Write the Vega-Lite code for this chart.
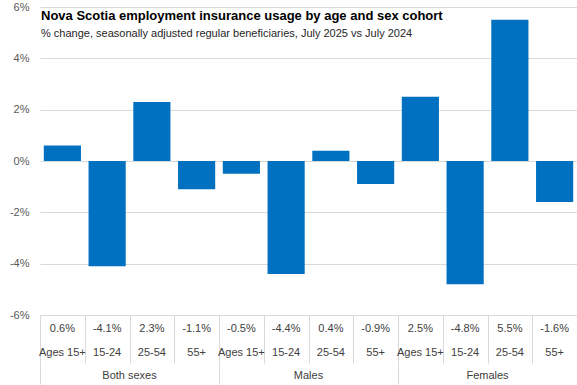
{
  "$schema": "https://vega.github.io/schema/vega-lite/v6.json",
  "padding": {"left": 9, "top": 1, "right": 1, "bottom": 1},
  "spacing": 0,
  "bounds": "flush",
  "background": "white",
  "config": {
    "view": {"stroke": null},
    "font": "Liberation Sans",
    "locale": {"number": {"decimal": ".", "thousands": ",", "grouping": [3], "currency": ["$", ""], "minus": "-"}}
  },
  "data": {
    "values": [
      {"cohort": "Both sexes 15+", "sex": "Both sexes", "age": "Ages 15+", "change": 0.006},
      {"cohort": "Both sexes 15-24", "sex": "Both sexes", "age": "15-24", "change": -0.041},
      {"cohort": "Both sexes 25-54", "sex": "Both sexes", "age": "25-54", "change": 0.023},
      {"cohort": "Both sexes 55+", "sex": "Both sexes", "age": "55+", "change": -0.011},
      {"cohort": "Males 15+", "sex": "Males", "age": "Ages 15+", "change": -0.005},
      {"cohort": "Males 15-24", "sex": "Males", "age": "15-24", "change": -0.044},
      {"cohort": "Males 25-54", "sex": "Males", "age": "25-54", "change": 0.004},
      {"cohort": "Males 55+", "sex": "Males", "age": "55+", "change": -0.009},
      {"cohort": "Females 15+", "sex": "Females", "age": "Ages 15+", "change": 0.025},
      {"cohort": "Females 15-24", "sex": "Females", "age": "15-24", "change": -0.048},
      {"cohort": "Females 25-54", "sex": "Females", "age": "25-54", "change": 0.055},
      {"cohort": "Females 55+", "sex": "Females", "age": "55+", "change": -0.016}
    ]
  },
  "vconcat": [
    {
      "width": 537,
      "height": 308,
      "title": {
        "text": "Nova Scotia employment insurance usage by age and sex cohort",
        "subtitle": "% change, seasonally adjusted regular beneficiaries, July 2025 vs July 2024",
        "anchor": "start",
        "frame": "group",
        "offset": -38,
        "dx": 1,
        "fontSize": 13,
        "fontWeight": "bold",
        "color": "#000000",
        "subtitleFontSize": 11,
        "subtitleColor": "#262626",
        "subtitlePadding": 5
      },
      "mark": {"type": "bar", "color": "#0070C0"},
      "encoding": {
        "x": {"field": "cohort", "type": "nominal", "sort": null, "axis": null,
              "scale": {"paddingInner": 0.17, "paddingOuter": 0.085}},
        "y": {"field": "change", "type": "quantitative",
              "scale": {"domain": [-0.06, 0.06], "nice": false, "zero": false},
              "axis": {"title": null, "format": ".0%", "values": [-0.06, -0.04, -0.02, 0, 0.02, 0.04, 0.06],
                       "domain": false, "ticks": false, "tickSize": 0, "labelPadding": 11,
                       "labelFontSize": 11, "labelColor": "#595959", "gridColor": "#d9d9d9",
                       "minExtent": 30, "maxExtent": 30}}
      }
    },
    {
      "width": 537,
      "height": 48,
      "encoding": {
        "x": {"field": "cohort", "type": "nominal", "sort": null,
              "scale": {"paddingInner": 0, "paddingOuter": 0},
              "axis": {"title": null, "labels": false, "ticks": false, "domain": false, "grid": true,
                       "tickBand": "extent", "gridColor": "#d9d9d9", "minExtent": 0, "maxExtent": 0}}
      },
      "layer": [
        {
          "mark": {"type": "text", "fontSize": 11, "color": "#404040", "dy": 2},
          "encoding": {
            "text": {"field": "change", "type": "quantitative", "format": ".1%"},
            "y": {"datum": "value", "type": "nominal", "scale": {"domain": ["value", "age"]}, "axis": null}
          }
        },
        {
          "mark": {"type": "text", "fontSize": 11, "color": "#404040", "dy": 2},
          "encoding": {
            "text": {"field": "age", "type": "nominal"},
            "y": {"datum": "age", "type": "nominal", "axis": null}
          }
        }
      ]
    },
    {
      "width": 537,
      "height": 21,
      "transform": [{"aggregate": [{"op": "count", "as": "n"}], "groupby": ["sex"]}],
      "mark": {"type": "text", "fontSize": 11, "color": "#404040", "dy": 2},
      "encoding": {
        "x": {"field": "sex", "type": "nominal", "sort": ["Both sexes", "Males", "Females"],
              "scale": {"paddingInner": 0, "paddingOuter": 0},
              "axis": {"title": null, "labels": false, "ticks": false, "domain": false, "grid": true,
                       "tickBand": "extent", "gridColor": "#d9d9d9", "minExtent": 0, "maxExtent": 0}},
        "text": {"field": "sex", "type": "nominal"}
      }
    }
  ],
  "resolve": {"scale": {"x": "independent", "y": "independent"}}
}
